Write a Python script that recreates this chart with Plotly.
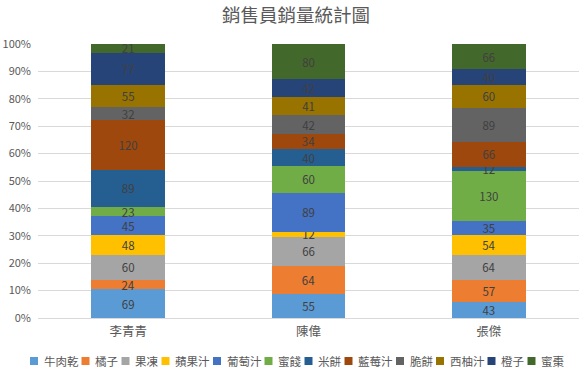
import plotly.graph_objects as go

categories = ["李青青", "陳偉", "張傑"]
series_names = ["牛肉乾", "橘子", "果凍", "蘋果汁", "葡萄汁", "蜜餞",
                "米餅", "藍莓汁", "脆餅", "西柚汁", "橙子", "蜜棗"]
values = {
    "牛肉乾": [69, 55, 43],
    "橘子":   [24, 64, 57],
    "果凍":   [60, 66, 64],
    "蘋果汁": [48, 12, 54],
    "葡萄汁": [45, 89, 35],
    "蜜餞":   [23, 60, 130],
    "米餅":   [89, 40, 12],
    "藍莓汁": [120, 34, 66],
    "脆餅":   [32, 42, 89],
    "西柚汁": [55, 41, 60],
    "橙子":   [77, 42, 40],
    "蜜棗":   [21, 80, 66],
}
colors = ["#5B9BD5", "#ED7D31", "#A5A5A5", "#FFC000", "#4472C4", "#70AD47",
          "#255E91", "#9E480E", "#636363", "#997300", "#264478", "#43682B"]
y_ticks = list(range(0, 101, 10))
y_tick_labels = [f"{v}%" for v in y_ticks]
title_text = "銷售員銷量統計圖"

FONT = "Noto Sans CJK TC, Noto Sans CJK SC, sans-serif"
W, H = 584, 379
ML, MR, MT, MB = 38, 5, 44, 61
PW = W - ML - MR
PH = H - MT - MB

fig = go.Figure()
for name, col in zip(series_names, colors):
    vals = values[name]
    fig.add_trace(go.Bar(
        x=categories, y=vals, name=name, marker=dict(color=col, line=dict(width=0)),
        text=[str(v) for v in vals], textposition="inside", insidetextanchor="middle",
        constraintext="none", textangle=0,
        textfont=dict(color="#404040", size=11.5, family=FONT),
        showlegend=False,
    ))

# manual legend (layout only)
def px_to_xpaper(px):
    return (px - ML) / PW

def py_to_ypaper(py):
    return (H - MB - py) / PH

shapes = []
annotations = []
x = 30.0
char_w = 11.5
sq = 8
yc = 361
for name, col in zip(series_names, colors):
    shapes.append(dict(type="rect", xref="paper", yref="paper",
                       x0=px_to_xpaper(x), x1=px_to_xpaper(x + sq),
                       y0=py_to_ypaper(yc + sq / 2), y1=py_to_ypaper(yc - sq / 2),
                       fillcolor=col, line=dict(width=0)))
    tx = x + sq + 3.5
    annotations.append(dict(text=name, xref="paper", yref="paper",
                            x=px_to_xpaper(tx), y=py_to_ypaper(yc),
                            xanchor="left", yanchor="middle", showarrow=False,
                            font=dict(size=11.5, color="#595959", family=FONT)))
    x = tx + len(name) * char_w + 5.5

fig.update_layout(
    width=W, height=H,
    margin=dict(l=ML, r=MR, t=MT, b=MB, pad=0),
    barmode="stack", barnorm="percent", bargap=0.593,
    plot_bgcolor="white", paper_bgcolor="white",
    title=dict(text=title_text, x=296 / W, xanchor="center", y=1 - 16 / H, yanchor="middle",
               font=dict(size=18.5, color="#595959", family=FONT)),
    font=dict(family=FONT, color="#595959"),
    xaxis=dict(showgrid=False, showline=True, linecolor="#D9D9D9", linewidth=1,
               ticks="", tickfont=dict(size=12.5, color="#595959", family=FONT),
               ticklabelstandoff=2, automargin=False),
    yaxis=dict(range=[0, 100], tickmode="array", tickvals=y_ticks, ticktext=y_tick_labels,
               showgrid=True, gridcolor="#D9D9D9", gridwidth=1, zeroline=False,
               ticks="", tickfont=dict(size=11, color="#595959", family=FONT),
               ticklabelstandoff=6, automargin=False),
    shapes=shapes, annotations=annotations,
)

fig.write_html("out.html", config={"displayModeBar": False},
               post_script="document.body.style.margin='0';document.body.style.overflow='hidden';")
